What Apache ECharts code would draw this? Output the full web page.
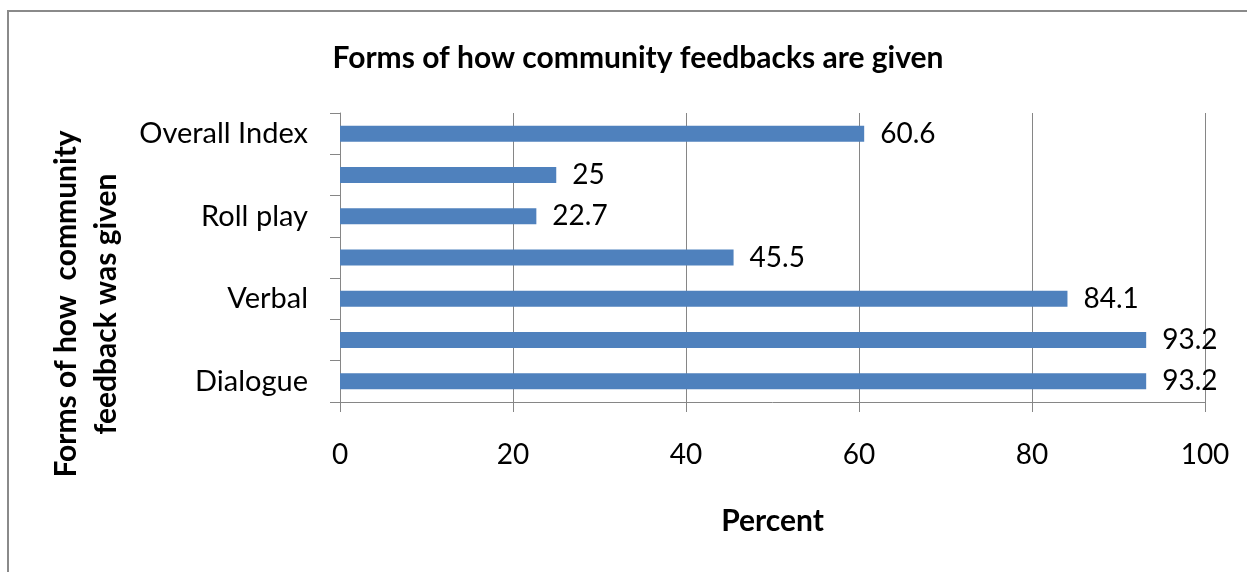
<!DOCTYPE html>
<html>
<head>
<meta charset="utf-8">
<script src="https://cdn.jsdelivr.net/npm/echarts@6/dist/echarts.min.js"></script>
<style>
html,body{margin:0;padding:0;background:#fff;}
#chart{width:1247px;height:572px;}
</style>
</head>
<body>
<div id="chart"></div>
<script>
// Categories bottom-to-top; the unlabelled ones are hidden by the label interval in the original
const categories = ['Dialogue', '(unlabelled A)', 'Verbal', '(unlabelled B)', 'Roll play', '(unlabelled C)', 'Overall Index'];
const values = [93.2, 93.2, 84.1, 45.5, 22.7, 25, 60.6];
const xTicks = [0, 20, 40, 60, 80, 100];
const titleText = 'Forms of how community feedbacks are given';
const yAxisTitle = 'Forms of how  community\nfeedback was given';
const xAxisTitle = 'Percent';

const FONT = 'Lato, "Open Sans", sans-serif';
const chart = echarts.init(document.getElementById('chart'));
chart.setOption({
  animation: false,
  backgroundColor: '#fff',
  title: {
    text: titleText,
    left: 633, top: 38, textAlign: 'center',
    textStyle: { fontFamily: FONT, fontSize: 30, fontWeight: 'bold', color: '#000' }
  },
  graphic: [
    { type: 'rect', shape: { x: 8, y: 11, width: 1300, height: 700 },
      style: { fill: 'none', stroke: '#8a8a8a', lineWidth: 2 }, silent: true },
    { type: 'text', x: 86, y: 304, rotation: Math.PI / 2,
      style: { text: yAxisTitle, fontFamily: FONT, fontSize: 30, fontWeight: 'bold',
               fill: '#000', align: 'center', verticalAlign: 'middle', lineHeight: 40 } }
  ],
  grid: { left: 340, right: 42, top: 113, bottom: 170, containLabel: false },
  xAxis: {
    type: 'value', min: xTicks[0], max: xTicks[xTicks.length - 1], interval: 20,
    name: xAxisTitle, nameLocation: 'middle', nameGap: 104,
    nameTextStyle: { fontFamily: FONT, fontSize: 30, fontWeight: 'bold', color: '#000' },
    axisLine: { show: true, lineStyle: { color: '#868686', width: 1 } },
    axisTick: { show: true, length: 10, lineStyle: { color: '#868686' } },
    axisLabel: { fontFamily: FONT, fontSize: 28, color: '#000', margin: 39 },
    splitLine: { show: true, lineStyle: { color: '#868686', width: 1 } }
  },
  yAxis: {
    type: 'category', data: categories,
    axisLine: { show: true, lineStyle: { color: '#868686', width: 1 } },
    axisTick: { show: true, length: 10, interval: 0, lineStyle: { color: '#868686' } },
    axisLabel: { interval: 1, fontFamily: FONT, fontSize: 29, color: '#000', margin: 32 },
    splitLine: { show: false }
  },
  series: [{
    type: 'bar', data: values, barWidth: 16,
    itemStyle: { color: '#4F81BD' },
    label: { show: true, position: 'right', distance: 16,
             fontFamily: FONT, fontSize: 28, color: '#000' }
  }]
});
</script>
</body>
</html>
